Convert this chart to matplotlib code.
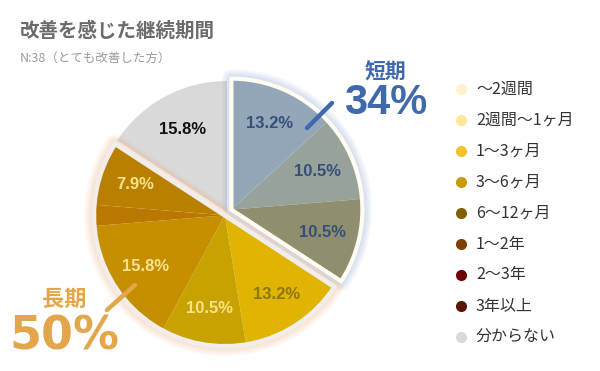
import matplotlib
matplotlib.use("Agg")
import matplotlib.pyplot as plt
from matplotlib.patches import Wedge
import numpy as np

# ---------------- data ----------------
categories = ["～2週間", "2週間～1ヶ月", "1～3ヶ月", "3～6ヶ月", "6～12ヶ月",
              "1～2年", "2～3年", "3年以上", "分からない"]
values = [13.2, 10.5, 10.5, 13.2, 10.5, 15.8, 2.6, 7.9, 15.8]
legend_colors = ["#FFF2CC", "#FFE699", "#F4C12F", "#C99A06", "#806000",
                 "#7F3F00", "#6E0000", "#5A1400", "#D9D9D9"]
slice_colors = ["#94A7B8", "#97A29A", "#8F8E6E", "#E0B400", "#C8A200",
                "#C68F00", "#BB7800", "#B98000", "#D9D9D9"]
label_colors = ["#34507A", "#34507A", "#34507A", "#8A7710", "#F8E38C",
                "#F8E38C", "#F8E38C", "#F8E38C", "#111111"]
short_idx = [0, 1, 2]
long_idx = [3, 4, 5, 6, 7]
short_label, short_total = "短期", "34%"
long_label, long_total = "長期", "50%"
title = "改善を感じた継続期間"
subtitle = "N:38（とても改善した方）"

JP = ["Noto Sans CJK JP", "DejaVu Sans"]
W, H = 600, 371

fig = plt.figure(figsize=(W / 100, H / 100), dpi=100)
ax = fig.add_axes([0, 0, 1, 1])

cx, cy, R = 227, H - 212, 131
wedges, _, autotexts = ax.pie(
    values, colors=slice_colors, startangle=90, counterclock=False,
    center=(cx, cy), radius=R, pctdistance=0.72,
    autopct=lambda p: f"{p:.1f}%" if p >= 5 else "",
    wedgeprops=dict(linewidth=0),
    textprops=dict(fontsize=12, fontweight="bold", family=["Liberation Sans"]))
ax.set_xlim(0, W)
ax.set_ylim(0, H)
ax.set_aspect("equal")
ax.axis("off")

for t, c in zip(autotexts, label_colors):
    t.set_color(c)
    t.set_zorder(5)


def group(idx, offset, glow, border, lw_border, alpha):
    t1 = min(wedges[i].theta1 for i in idx)
    t2 = max(wedges[i].theta2 for i in idx)
    mid = np.deg2rad((t1 + t2) / 2)
    dx, dy = offset * np.cos(mid), offset * np.sin(mid)
    c = (cx + dx, cy + dy)
    for i in idx:
        wedges[i].set_center(c)
        wedges[i].set_zorder(2)
        x, y = autotexts[i].get_position()
        autotexts[i].set_position((x + dx, y + dy))
    for lw in np.linspace(14, 4, 6):
        ax.add_patch(Wedge(c, R, t1, t2, fill=False, edgecolor=glow,
                           linewidth=lw, alpha=alpha, zorder=1.5,
                           joinstyle="round"))
    ax.add_patch(Wedge(c, R, t1, t2, fill=False, edgecolor=border,
                       linewidth=lw_border, zorder=3, joinstyle="miter"))


group(short_idx, 5, "#5A7FBE", "#FFFCF2", 3.0, 0.045)
group(long_idx, 4, "#F29A5C", "#F0EDEA", 3.4, 0.05)
wedges[8].set_zorder(1)

# callouts
blue = "#3F69AA"
gold = "#E3A64A"
ax.text(385, H - 72, short_label, color=blue, fontsize=15, fontweight="bold",
        ha="center", va="center", family=JP)
ax.text(386, H - 103, short_total, color=blue, fontsize=30, fontweight="bold",
        ha="center", va="center", family=["Liberation Sans"])
ax.plot([307, 332], [H - 128, H - 103], color=blue, lw=3.2,
        solid_capstyle="round", zorder=6)

ax.text(64, H - 299, long_label, color=gold, fontsize=16, fontweight="bold",
        ha="center", va="center", family=JP)
ax.text(64, H - 337, long_total, color=gold, fontsize=33, fontweight="bold",
        ha="center", va="center", family=["DejaVu Sans"])
ax.plot([107, 135], [H - 310, H - 285], color=gold, lw=3.2,
        solid_capstyle="round", zorder=6)

# titles
ax.text(20, H - 31, title, color="#6B6B6B", fontsize=14, fontweight="bold",
        ha="left", va="center", family=JP)
ax.text(20, H - 58, subtitle, color="#9A9A9A", fontsize=9,
        ha="left", va="center", family=JP)

# legend
for i, (lab, col) in enumerate(zip(categories, legend_colors)):
    y = H - (89 + i * 31)
    ax.plot([461], [y], marker="o", markersize=8, color=col,
            markeredgewidth=0, linestyle="none")
    ax.text(476, y, lab, fontsize=11.5, color="#333333", ha="left",
            va="center", family=JP)

fig.savefig("out.png", dpi=100)
